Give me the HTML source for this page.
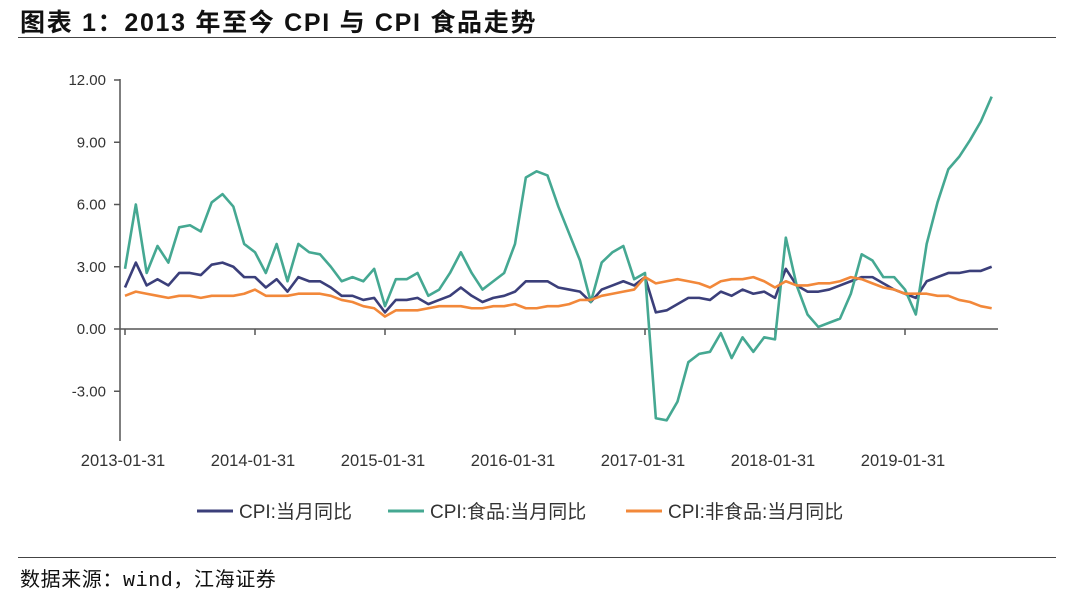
<!DOCTYPE html>
<html><head><meta charset="utf-8"><style>
body{margin:0;background:#fff;width:1080px;height:593px;overflow:hidden;font-family:"Liberation Sans","Noto Sans CJK SC",sans-serif;}
.title{position:absolute;left:20px;top:3px;font-size:25px;font-weight:bold;color:#111;font-family:"Liberation Sans Narrow","Liberation Sans","Noto Sans CJK SC",sans-serif;letter-spacing:1.7px}
.rule{position:absolute;left:18px;width:1038px;height:1px;background:#444}
.src{position:absolute;left:20px;top:563px;font-size:20px;color:#111;font-family:"Liberation Mono","Noto Sans CJK SC",sans-serif;letter-spacing:0.6px}
</style></head><body>
<div class="title">图表 1：2013 年至今 CPI 与 CPI 食品走势</div>
<div class="rule" style="top:37px"></div>
<svg id="chart" width="1080" height="593" style="position:absolute;left:0;top:0"></svg>
<div class="rule" style="top:557px"></div>
<div class="src">数据来源：wind，江海证券</div>
<script>
const yTicks=[12,9,6,3,0,-3];
const xTickLabels=["2013-01-31","2014-01-31","2015-01-31","2016-01-31","2017-01-31","2018-01-31","2019-01-31"];
const seriesNames=["CPI:当月同比","CPI:食品:当月同比","CPI:非食品:当月同比"];
const cpi=[2.0,3.2,2.1,2.4,2.1,2.7,2.7,2.6,3.1,3.2,3.0,2.5,
2.5,2.0,2.4,1.8,2.5,2.3,2.3,2.0,1.6,1.6,1.4,1.5,
0.8,1.4,1.4,1.5,1.2,1.4,1.6,2.0,1.6,1.3,1.5,1.6,
1.8,2.3,2.3,2.3,2.0,1.9,1.8,1.3,1.9,2.1,2.3,2.1,
2.5,0.8,0.9,1.2,1.5,1.5,1.4,1.8,1.6,1.9,1.7,1.8,
1.5,2.9,2.1,1.8,1.8,1.9,2.1,2.3,2.5,2.5,2.2,1.9,
1.7,1.5,2.3,2.5,2.7,2.7,2.8,2.8,3.0];
const food=[2.9,6.0,2.7,4.0,3.2,4.9,5.0,4.7,6.1,6.5,5.9,4.1,
3.7,2.7,4.1,2.3,4.1,3.7,3.6,3.0,2.3,2.5,2.3,2.9,
1.1,2.4,2.4,2.7,1.6,1.9,2.7,3.7,2.7,1.9,2.3,2.7,
4.1,7.3,7.6,7.4,5.9,4.6,3.3,1.3,3.2,3.7,4.0,2.4,
2.7,-4.3,-4.4,-3.5,-1.6,-1.2,-1.1,-0.2,-1.4,-0.4,-1.1,-0.4,
-0.5,4.4,2.1,0.7,0.1,0.3,0.5,1.7,3.6,3.3,2.5,2.5,
1.9,0.7,4.1,6.1,7.7,8.3,9.1,10.0,11.2];
const nonfood=[1.6,1.8,1.7,1.6,1.5,1.6,1.6,1.5,1.6,1.6,1.6,1.7,
1.9,1.6,1.6,1.6,1.7,1.7,1.7,1.6,1.4,1.3,1.1,1.0,
0.6,0.9,0.9,0.9,1.0,1.1,1.1,1.1,1.0,1.0,1.1,1.1,
1.2,1.0,1.0,1.1,1.1,1.2,1.4,1.4,1.6,1.7,1.8,1.9,
2.5,2.2,2.3,2.4,2.3,2.2,2.0,2.3,2.4,2.4,2.5,2.3,
2.0,2.3,2.1,2.1,2.2,2.2,2.3,2.5,2.4,2.2,2.0,1.9,
1.7,1.7,1.7,1.6,1.6,1.4,1.3,1.1,1.0];
const colors=["#3b3f7a","#45a892","#f2883a"];
const NS="http://www.w3.org/2000/svg";
const svg=document.getElementById('chart');
const x=i=>125+i*130/12;
const y=v=>329-v*(249/12);
function mk(t,a){const e=document.createElementNS(NS,t);for(const k in a)e.setAttribute(k,a[k]);svg.appendChild(e);return e;}
const ax=mk('line',{x1:120,y1:79,x2:120,y2:441,stroke:'#555','stroke-width':1.5});


yTicks.forEach(v=>{
 const t=mk('line',{x1:114,x2:120,y1:y(v),y2:y(v),stroke:'#555','stroke-width':1.5});
 
 
 const l=mk('text',{x:106,y:y(v)+5,'text-anchor':'end','font-size':15,fill:'#333'});
 l.textContent=v.toFixed(2);
 
 
});
const xa=mk('line',{x1:120,x2:998,y1:y(0),y2:y(0),stroke:'#555','stroke-width':1.5});


xTickLabels.forEach((s,k)=>{
 const xx=x(k*12);
 const t=mk('line',{x1:xx,x2:xx,y1:y(0),y2:y(0)+6,stroke:'#555','stroke-width':1.5});
 
 
 const l=mk('text',{x:xx-2,y:466,'text-anchor':'middle','font-size':16.5,fill:'#333'});
 l.textContent=s;
 
 
});
[cpi,food,nonfood].forEach((d,si)=>{
 const p=mk('polyline',{points:d.map((v,i)=>x(i)+','+y(v)).join(' '),fill:'none',stroke:colors[si],'stroke-width':2.6,'stroke-linejoin':'round'});
 
 
});
const lx=[197,388,626];
seriesNames.forEach((n,si)=>{
 const g=mk('line',{x1:lx[si],x2:lx[si]+36,y1:511,y2:511,stroke:colors[si],'stroke-width':3});
 
 
 const t=mk('text',{x:lx[si]+42,y:518,'font-size':19,fill:'#333'});
 t.textContent=n;
 
 
});
</script>
</body></html>
